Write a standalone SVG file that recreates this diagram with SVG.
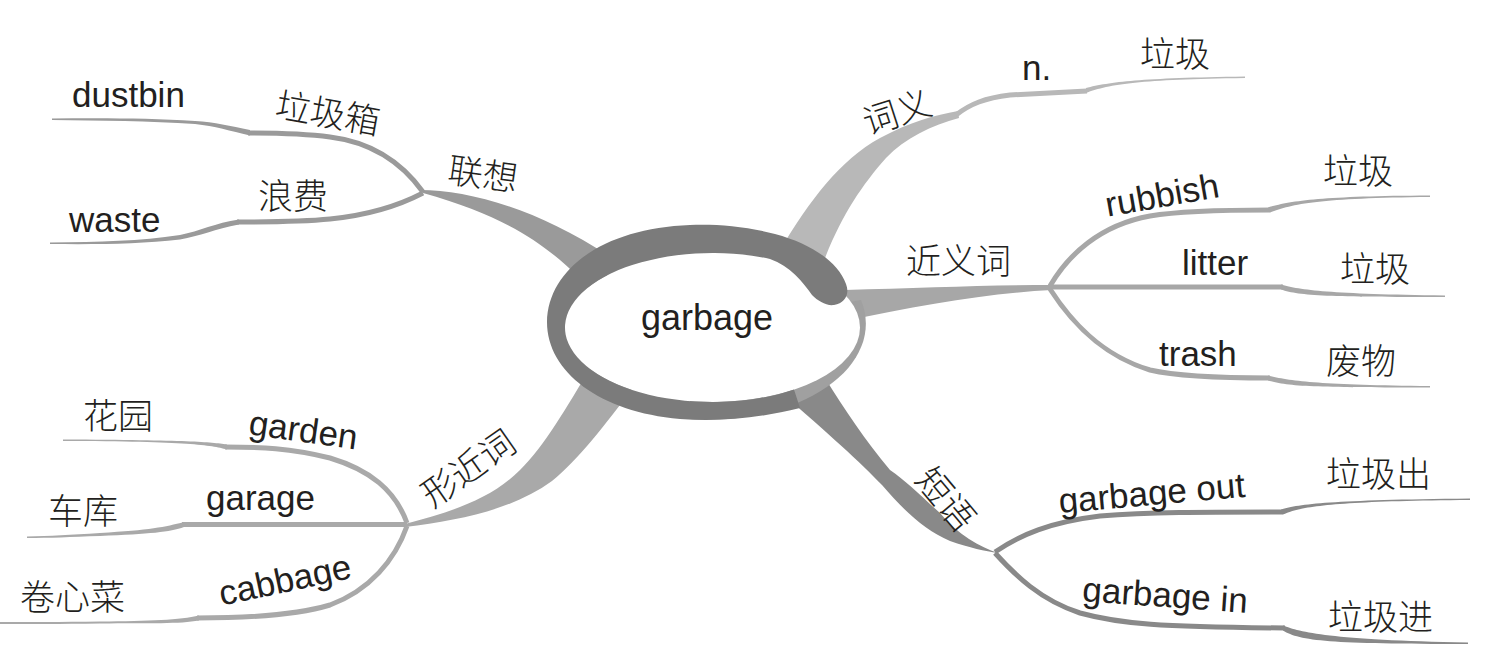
<svg xmlns="http://www.w3.org/2000/svg" width="1500" height="671" viewBox="0 0 1500 671">
<style>
.en{font-family:"Liberation Sans",Arial,sans-serif;font-size:35px;fill:#231f20}
.zh{font-family:"Noto Sans CJK SC","Noto Sans",sans-serif;font-size:35px;font-weight:300;fill:#231f20}
.ln{fill:none;stroke-width:5}
.c1{fill:#9a9a9a}.s1{stroke:#9a9a9a}
.c2{fill:#b8b8b8}.s2{stroke:#b8b8b8}
.c3{fill:#a7a7a7}.s3{stroke:#a7a7a7}
.c4{fill:#a9a9a9}.s4{stroke:#a9a9a9}
.c5{fill:#898989}.s5{stroke:#898989}
</style>
<rect width="1500" height="671" fill="#ffffff"/>
<g id="connectors">
  <!-- 联想 -->
  <path class="c1" d="M420,190 C470,190 540,210 612,258 L600,300 C560,255 520,220 423,193 Z"/>
  <path class="ln s1" d="M423,192 C400,160 370,142 330,137 C300,133 270,133 248,133"/>
  <path class="c1" d="M250,130 C230,126 215,122 195,121 C150,118 100,118 52,118.5 L52,120 C100,120.5 150,121 195,124 C215,126 230,131 250,135.5 Z"/>
  <path class="ln s1" d="M423,193 C400,205 370,215 330,219 C300,222 270,222 237,222"/>
  <path class="c1" d="M239,219.5 C215,223 200,231 180,235 C140,241 100,242 50,242.5 L50,244 C100,244.5 140,244 180,239.5 C200,236 215,229 239,224.5 Z"/>
  <!-- 词义 -->
  <path class="c2" d="M780,250 C810,200 840,160 880,138 C910,122 935,115 958,111 L959,118 C932,125 905,138 886,158 C862,185 842,215 825,258 Z"/>
  <path class="ln s2" d="M956,115 C970,104 985,98 1010,95 L1087,91"/>
  <path class="c2" d="M1086,88 C1110,82 1140,78 1245,76.5 L1245,78 C1140,79.5 1110,84 1086,93 Z"/>
  <!-- 近义词 -->
  <path class="c3" d="M845,290 C920,288 990,285 1052,285 L1052,290 C990,293 920,305 845,321 Z"/>
  <path class="ln s3" d="M1050,286 C1068,255 1100,225 1150,216 C1180,211 1230,210 1270,210"/>
  <path class="c3" d="M1268,207.5 C1290,201 1320,196 1430,195.5 L1430,197 C1320,198 1292,204 1270,212.5 Z"/>
  <path class="ln s3" d="M1050,287 L1283,287"/>
  <path class="c3" d="M1281,284.5 C1300,290 1330,294 1445,295.5 L1445,297 C1330,297 1300,296 1281,289.5 Z"/>
  <path class="ln s3" d="M1050,289 C1070,320 1100,355 1150,370 C1180,377 1230,378 1270,378"/>
  <path class="c3" d="M1268,375.5 C1290,381 1320,385 1430,386 L1430,387.5 C1320,387.5 1290,387 1268,380.5 Z"/>
  <!-- 形近词 -->
  <path class="c4" d="M405,524 C450,512 490,500 520,470 C545,445 565,410 592,365 L635,385 C605,425 578,460 552,481 C512,510 460,520 405,527 Z"/>
  <path class="ln s4" d="M407,523 C395,490 370,470 330,458 C290,448 260,447 225,447"/>
  <path class="c4" d="M227,444.5 C210,442 190,440 63,439.5 L63,441 C190,441.5 210,445 227,449.5 Z"/>
  <path class="ln s4" d="M407,524.5 L182,524.5"/>
  <path class="c4" d="M184,522 C165,527 150,530 100,533 C70,535 50,536 27,536.5 L27,538 C50,538 70,537 100,536 C150,534 170,532 184,527 Z"/>
  <path class="ln s4" d="M407,526 C395,560 370,590 330,605 C300,614 260,618 197,618"/>
  <path class="c4" d="M199,615.5 C180,620 150,621 100,621.5 C60,622 30,622 0,622 L0,624 C30,624 60,624 100,623.5 C150,623 180,624 199,620.5 Z"/>
  <!-- 短语 -->
  <path class="c5" d="M778,390 C830,435 860,462 882,485 C905,512 925,530 950,541 C970,548 985,551 998,553 C980,547 958,535 940,513 C920,495 905,480 890,470 C865,440 845,410 825,378 Z"/>
  <path class="ln s5" d="M995,552 C1020,535 1050,522 1100,516 C1150,512 1200,512 1283,512"/>
  <path class="c5" d="M1281,509.5 C1300,504 1330,500 1470,498.5 L1470,500 C1330,501 1300,507 1283,514.5 Z"/>
  <path class="ln s5" d="M995,553 C1015,575 1040,600 1080,613 C1120,624 1160,627 1285,628"/>
  <path class="c5" d="M1283,625.5 C1300,632 1330,640 1468,642.5 L1468,644 C1330,644 1300,641 1283,630.5 Z"/>
</g>
<g id="center">
  <path d="M861,300 A157 96 0 0 1 690,419 L690,395 L712,327 Z" fill="#a0a0a0"/>
  <ellipse cx="712.5" cy="327.5" rx="147.5" ry="74.5" fill="#ffffff"/>
  <path fill="#7b7b7b" d="M846,284 C838,262 812,244 775,234 C745,226 715,224 690,225 C605,228 548,268 547,322 C547,372 600,412 680,419 C720,422 760,418 800,408 L794,389.6 A147.5 74.5 0 1 1 770,258.9 C790,266 803,282 812,295 C818,301 826,306 834,305 C845,303 850,294 846,284 Z"/>
  <text class="en" x="707" y="330" text-anchor="middle" style="font-size:36px">garbage</text>
</g>
<g id="n-lianxiang"><text class="zh" x="483" y="187" text-anchor="middle" transform="rotate(8 483 174)">联想</text></g>
<g id="n-lajixiang"><text class="zh" x="328" y="126" text-anchor="middle" transform="rotate(10 328 113)">垃圾箱</text></g>
<g id="n-dustbin"><text class="en" x="72" y="107">dustbin</text></g>
<g id="n-langfei"><text class="zh" x="258" y="209">浪费</text></g>
<g id="n-waste"><text class="en" x="69" y="232">waste</text></g>
<g id="n-ciyi"><text class="zh" x="897" y="125" text-anchor="middle" transform="rotate(-18 897 112)">词义</text></g>
<g id="n-n"><text class="en" x="1022" y="80">n.</text></g>
<g id="n-laji0"><text class="zh" x="1140" y="67">垃圾</text></g>
<g id="n-jinyici"><text class="zh" x="906" y="274">近义词</text></g>
<g id="n-rubbish"><text class="en" x="1162" y="207" text-anchor="middle" transform="rotate(-10 1162 195)">rubbish</text></g>
<g id="n-laji1"><text class="zh" x="1323" y="184">垃圾</text></g>
<g id="n-litter"><text class="en" x="1182" y="275">litter</text></g>
<g id="n-laji2"><text class="zh" x="1340" y="282">垃圾</text></g>
<g id="n-trash"><text class="en" x="1159" y="366">trash</text></g>
<g id="n-feiwu"><text class="zh" x="1326" y="374">废物</text></g>
<g id="n-xingjinci"><text class="zh" x="468" y="481" text-anchor="middle" transform="rotate(-35 468 468)">形近词</text></g>
<g id="n-garden"><text class="en" x="303" y="442" text-anchor="middle" transform="rotate(8 303 433)">garden</text></g>
<g id="n-huayuan"><text class="zh" x="83" y="429">花园</text></g>
<g id="n-garage"><text class="en" x="206" y="510">garage</text></g>
<g id="n-cheku"><text class="zh" x="48" y="524">车库</text></g>
<g id="n-cabbage"><text class="en" x="285" y="592" text-anchor="middle" transform="rotate(-12 285 580)">cabbage</text></g>
<g id="n-juanxincai"><text class="zh" x="20" y="610">卷心菜</text></g>
<g id="n-duanyu"><text class="zh" x="946" y="512" text-anchor="middle" transform="rotate(50 946 499)">短语</text></g>
<g id="n-garbageout"><text class="en" x="1152" y="505" text-anchor="middle" transform="rotate(-5 1152 496)">garbage out</text></g>
<g id="n-lajichu"><text class="zh" x="1326" y="487">垃圾出</text></g>
<g id="n-garbagein"><text class="en" x="1165" y="607" text-anchor="middle" transform="rotate(4 1165 598)">garbage in</text></g>
<g id="n-lajijin"><text class="zh" x="1328" y="630">垃圾进</text></g>
</svg>
